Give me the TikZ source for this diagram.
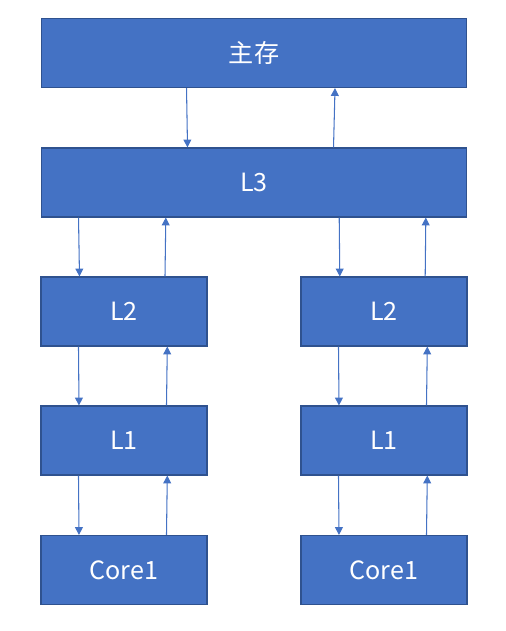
\documentclass[tikz,border=0pt]{standalone}
\usepackage{fontspec}
\setmainfont{Noto Sans CJK SC}
\usetikzlibrary{calc,arrows.meta}
\definecolor{boxblue}{HTML}{4472C4}
\definecolor{boxline}{HTML}{2F528F}

\begin{document}
\begin{tikzpicture}[x=0.02cm,y=-0.02cm,
  block/.style={draw=boxline,line width=0.6pt,fill=boxblue,text=white,
    minimum height=1.38cm,inner sep=0pt,font=\fontsize{14.3}{16}\selectfont},
  wide/.style={block,minimum width=8.52cm},
  small/.style={block,minimum width=3.32cm},
  link/.style={-{Triangle[length=4.5pt,width=4.5pt]},boxblue,line width=0.6pt}]
\useasboundingbox (0,0) rectangle (506,631);
\node[wide] (mem) at (254,53) {主存};
\node[wide] (l3) at (254,182.5) {L3};
\node[small] (l2a) at (124,311.5) {L2};
\node[small] (l2b) at (384,311.5) {L2};
\node[small] (l1a) at (124,440.5) {L1};
\node[small] (l1b) at (384,440.5) {L1};
\node[small] (cpua) at (124,570) {Core1};
\node[small] (cpub) at (384,570) {Core1};
% memory <-> L3
\draw[link] ($(mem.south west)+(146,0)$) -- ($(l3.north west)+(147,0)$);
\draw[link] ($(l3.north west)+(293,0)$) -- ($(mem.south west)+(294.5,0)$);
% L3 <-> L2
\draw[link] ($(l3.south west)+(38,0)$) -- ($(l2a.north west)+(39,0)$);
\draw[link] ($(l2a.north west)+(124.5,0)$) -- ($(l3.south west)+(125.3,0)$);
\draw[link] ($(l3.south west)+(298.7,0)$) -- ($(l2b.north west)+(39.3,0)$);
\draw[link] ($(l2b.north west)+(124.7,0)$) -- ($(l3.south west)+(385.3,0)$);
% L2 <-> L1, L1 <-> core
\foreach \a/\b in {l2a/l1a,l2b/l1b,l1a/cpua,l1b/cpub}{
  \draw[link] ($(\a.south west)+(38,0)$) -- ($(\b.north west)+(38.5,0)$);
  \draw[link] ($(\b.north west)+(126,0)$) -- ($(\a.south west)+(126.8,0)$);
}
\end{tikzpicture}
\end{document}
